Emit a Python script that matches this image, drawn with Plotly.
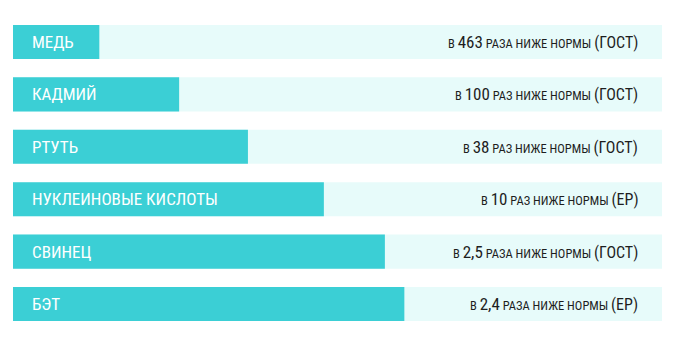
import plotly.graph_objects as go

categories = ["МЕДЬ", "КАДМИЙ", "РТУТЬ", "НУКЛЕИНОВЫЕ КИСЛОТЫ", "СВИНЕЦ", "БЭТ"]
bar_share = [13.3, 25.6, 36.2, 47.9, 57.3, 60.3]
full_share = [100, 100, 100, 100, 100, 100]
times = ["463", "100", "38", "10", "2,5", "2,4"]
word = ["РАЗА", "РАЗ", "РАЗ", "РАЗ", "РАЗА", "РАЗА"]
norm = ["ГОСТ", "ГОСТ", "ГОСТ", "ЕР", "ГОСТ", "ЕР"]

TEAL = "#3bcfd5"
LIGHT = "#e7fbfa"
FONT = "Roboto Condensed, DejaVu Sans Condensed, sans-serif"

fig = go.Figure()
fig.add_trace(go.Bar(y=categories, x=full_share, orientation="h",
                     marker=dict(color=LIGHT, line=dict(width=0)), hoverinfo="skip"))
fig.add_trace(go.Bar(y=categories, x=bar_share, orientation="h",
                     marker=dict(color=TEAL, line=dict(width=0)), hoverinfo="skip"))

for c, t, w, n in zip(categories, times, word, norm):
    fig.add_annotation(x=0, y=c, xref="x", yref="y", text=c, showarrow=False,
                       xanchor="left", yanchor="middle", xshift=17, yshift=0,
                       font=dict(family=FONT, size=17, color="white"))
    txt = (f"<span style='font-size:12.5px'>В </span>"
           f"<span style='font-size:17px'>{t}</span>"
           f"<span style='font-size:12.5px'> {w} НИЖЕ НОРМЫ </span>"
           f"<span style='font-size:16px'>({n})</span>")
    fig.add_annotation(x=100, y=c, xref="x", yref="y", text=txt, showarrow=False,
                       xanchor="right", yanchor="middle", xshift=-22, yshift=0,
                       font=dict(family=FONT, size=12.5, color="#1e1e1e"))

fig.update_layout(
    width=678, height=342, margin=dict(l=0, r=0, t=0, b=0),
    paper_bgcolor="white", plot_bgcolor="white",
    barmode="overlay", bargap=0.35, showlegend=False,
    xaxis=dict(domain=[13/678, 662/678], range=[0, 100], visible=False, fixedrange=True),
    yaxis=dict(type="category", categoryorder="array", categoryarray=categories,
               range=[5.725, -0.8015], visible=False, fixedrange=True),
)
fig.write_html("out.html")
